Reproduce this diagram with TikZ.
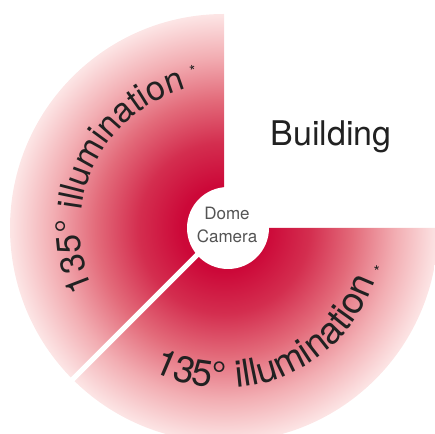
\documentclass[tikz,border=0pt]{standalone}
\usepackage{fontspec}
\setmainfont{TeX Gyre Heros}
\usetikzlibrary{decorations.text}
\definecolor{txt}{rgb}{0.13,0.13,0.13}
\definecolor{camtxt}{rgb}{0.33,0.33,0.33}
\pgfdeclareradialshading{illum}{\pgfpoint{0bp}{0bp}}{rgb(0bp)=(0.80,0.03,0.22); rgb(5bp)=(0.80,0.03,0.22); rgb(10bp)=(0.83,0.18,0.31); rgb(15bp)=(0.89,0.42,0.48); rgb(20bp)=(0.95,0.68,0.70); rgb(25bp)=(0.99,0.90,0.90); rgb(50bp)=(0.99,0.90,0.90)}
\tikzset{
  arclabel/.style={decorate, decoration={text along path, text align=center, text={#1}}},
  star/.style={font=\fontsize{16}{16}\selectfont, text=txt, inner sep=0pt}
}
\begin{document}
\begin{tikzpicture}[x=1pt,y=1pt]
\useasboundingbox (0,0) rectangle (435,433);
\clip (0,0) rectangle (435,433);
\coordinate (c) at (224,205);
\coordinate (gapend) at ([shift={(225:260)}]c);
\begin{scope}
  \clip[shift={(c)}] (0,0) -- (90:214) arc[start angle=90,end angle=225,radius=214] -- cycle
        (0,0) -- (225:214) arc[start angle=225,end angle=360,radius=214] -- cycle;
  \shade[shading=illum] (c) circle (214);
\end{scope}
\draw[white, line width=5pt] (c) -- (gapend);
\node[circle, fill=white, minimum size=82pt, inner sep=0pt] (cam) at (228,205) {};
\node[align=center, font=\fontsize{17}{23}\selectfont, text=camtxt] (camlabel) at (227,208) {Dome\\Camera};
\node[font=\fontsize{34}{34}\selectfont, text=txt] (bld) at (331,296) {Building};
\path[shift={(c)}, arclabel={|\fontsize{34}{34}\selectfont\color{txt}|135° illumination}]
  (214:144) arc[start angle=214, end angle=96, radius=144];
\path[shift={(c)}, arclabel={|\fontsize{37}{37}\selectfont\color{txt}|135° illumination}]
  (235:160) arc[start angle=235, end angle=349, radius=160];
\node[star, rotate=12] (s1) at (193,362) {*};
\node[star, rotate=75] (s2) at (380,164) {*};
\end{tikzpicture}
\end{document}
